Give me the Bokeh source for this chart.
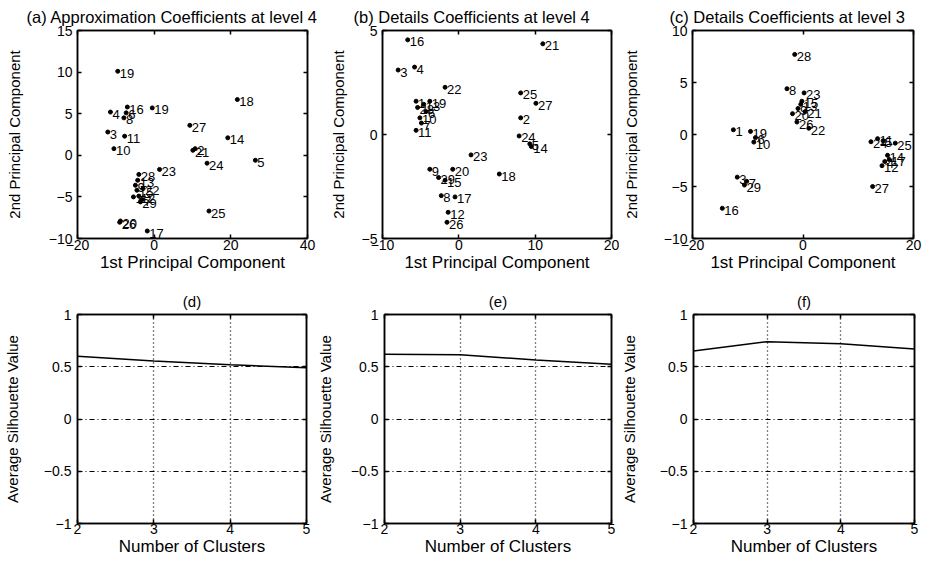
from bokeh.plotting import figure
from bokeh.layouts import column, row
from bokeh.models import Range1d, LinearAxis, FixedTicker, ColumnDataSource
from bokeh.core.properties import value
from bokeh.embed import file_html
from bokeh.resources import INLINE

FONT = "Liberation Sans"

# ---- panel titles -------------------------------------------------------
titles = ["(a) Approximation Coefficients at level 4",
          "(b) Details Coefficients at level 4",
          "(c) Details Coefficients at level 3"]
sil_titles = ["(d)", "(e)", "(f)"]

# ---- (a) PCA of approximation coefficients, level 4 ---------------------
a_labels = ["19", "4", "16", "6", "8", "19", "3", "11", "10",
            "27", "18", "14", "21", "2", "24", "5", "25",
            "23", "26", "20", "17",
            "28", "13", "9", "15", "1", "12", "7", "22", "29"]
a_x = [-9.5, -11.4, -7.0, -7.3, -7.9, -0.5, -12.1, -7.7, -10.5,
       9.3, 21.7, 19.2, 10.1, 10.7, 13.8, 26.4, 14.3,
       1.4, -9.0, -8.8, -1.8,
       -4.0, -4.3, -4.9, -4.5, -5.4, -4.0, -3.1, -2.9, -3.6]
a_y = [10.1, 5.2, 5.8, 5.1, 4.5, 5.7, 2.8, 2.3, 0.8,
       3.6, 6.7, 2.1, 0.6, 0.8, -0.95, -0.6, -6.7,
       -1.7, -8.05, -7.9, -9.1,
       -2.3, -3.0, -3.6, -4.2, -5.0, -4.9, -5.3, -4.0, -5.6]

# ---- (b) PCA of detail coefficients, level 4 ----------------------------
b_labels = ["16", "3", "4", "22", "21", "1", "19", "28", "13", "10", "6", "7", "11",
            "25", "27", "2", "24", "14", "5", "23", "18",
            "9", "20", "29", "15", "8", "17", "12", "26"]
b_x = [-6.7, -7.95, -5.8, -1.8, 11.0, -5.6, -3.8, -5.4, -4.6, -5.1, -4.3, -4.9, -5.6,
       8.1, 10.1, 8.1, 7.9, 9.5, 9.3, 1.6, 5.3,
       -3.8, -0.8, -2.65, -1.8, -2.3, -0.5, -1.4, -1.55]
b_y = [4.55, 3.1, 3.24, 2.27, 4.36, 1.6, 1.6, 1.3, 1.45, 0.8, 1.1, 0.55, 0.2,
       2.0, 1.5, 0.8, -0.07, -0.58, -0.45, -0.98, -1.9,
       -1.67, -1.67, -2.07, -2.2, -2.94, -3.0, -3.74, -4.22]

# ---- (c) PCA of detail coefficients, level 3 ----------------------------
c_labels = ["28", "8", "23", "15", "13", "9", "21", "20", "26", "22",
            "1", "19", "10", "6", "3", "29", "7", "16",
            "27", "24", "11", "5", "25", "14", "4", "12", "17"]
c_x = [-1.5, -2.9, 0.2, -0.2, -0.4, -0.9, 0.4, -1.9, -1.1, 1.05,
       -12.6, -9.5, -8.9, -8.6, -11.9, -10.6, -10.2, -14.6,
       12.6, 12.3, 13.5, 14.5, 16.7, 15.3, 14.8, 14.3, 15.6]
c_y = [7.7, 4.4, 4.0, 3.2, 2.9, 2.5, 2.2, 2.0, 1.2, 0.6,
       0.45, 0.3, -0.73, -0.3, -4.1, -4.86, -4.5, -7.1,
       -5.0, -0.7, -0.4, -0.6, -0.83, -2.0, -2.6, -3.0, -2.4]

# ---- (d)-(f) average silhouette value vs number of clusters -------------
clusters = [2, 3, 4, 5]
sil_d = [0.60, 0.555, 0.52, 0.49]
sil_e = [0.62, 0.615, 0.565, 0.525]
sil_f = [0.65, 0.74, 0.72, 0.67]

# ---- axis ticks ---------------------------------------------------------
a_xticks, a_yticks = [-20, 0, 20, 40], [-10, -5, 0, 5, 10, 15]
b_xticks, b_yticks = [-10, 0, 10, 20], [-5, 0, 5]
c_xticks, c_yticks = [-20, 0, 20], [-10, -5, 0, 5, 10]
sil_yticks = [-1, -0.5, 0, 0.5, 1]


def fmt(t):
    return f"{t:g}".replace("-", "\u2212")


def style_axis(ax, ticks, label, label_size, tick_standoff, label_standoff):
    ax.ticker = FixedTicker(ticks=ticks)
    ax.major_label_overrides = {t: fmt(t) for t in ticks}
    ax.major_tick_in = 4
    ax.major_tick_out = 0
    ax.major_tick_line_color = "black"
    ax.major_tick_line_width = 1.5
    ax.minor_tick_line_color = None
    ax.axis_line_color = "black"
    ax.axis_line_width = 1.5
    ax.major_label_text_font = FONT
    ax.major_label_text_font_size = "14px"
    ax.major_label_text_color = "black"
    ax.major_label_standoff = tick_standoff
    ax.axis_label = label
    ax.axis_label_text_font = FONT
    ax.axis_label_text_font_size = label_size
    ax.axis_label_text_font_style = "normal"
    ax.axis_label_text_color = "black"
    ax.axis_label_standoff = label_standoff


def mirror_axes(p, xticks, yticks):
    # unlabeled ticks on the top and right edges of the box
    for ticks, side in ((xticks, "above"), (yticks, "right")):
        ax = LinearAxis(ticker=FixedTicker(ticks=ticks),
                        major_label_overrides={t: "" for t in ticks},
                        major_tick_in=4, major_tick_out=0,
                        major_tick_line_color="black", major_tick_line_width=1.5,
                        minor_tick_line_color=None,
                        axis_line_color="black", axis_line_width=1.5,
                        major_label_standoff=0, major_label_text_font_size="1px")
        p.add_layout(ax, side)


def base_fig(width, height, borders, xr, yr, title, title_size, title_align, title_offset):
    left, right, top, bottom = borders
    p = figure(width=width, height=height,
               x_range=Range1d(*xr), y_range=Range1d(*yr),
               min_border_left=left, min_border_right=right,
               min_border_top=top, min_border_bottom=bottom,
               output_backend="svg", toolbar_location=None,
               background_fill_color="white", border_fill_color="white")
    p.outline_line_color = "black"
    p.outline_line_width = 1.5
    p.title.text = title
    p.title.align = title_align
    p.title.offset = title_offset
    p.title.text_font = FONT
    p.title.text_font_size = title_size
    p.title.text_font_style = "normal"
    p.title.text_color = "black"
    return p


def scatter_panel(width, borders, xr, yr, xs, ys, labels, xticks, yticks,
                  ylab_standoff, title, title_offset):
    p = base_fig(width, 283, borders, xr, yr, title, "16.5px", "left", title_offset)
    p.grid.visible = False
    src = ColumnDataSource(dict(x=xs, y=ys, label=labels))
    p.scatter("x", "y", source=src, size=4, color="black")
    p.text("x", "y", text="label", source=src, text_font=value(FONT),
           text_font_size="13px", text_color="black", text_align="left",
           text_baseline="alphabetic", x_offset=2, y_offset=2)
    style_axis(p.xaxis[0], xticks, "1st Principal Component", "17px", 1, 0)
    style_axis(p.yaxis[0], yticks, "2nd Principal Component", "15px", 5, ylab_standoff)
    mirror_axes(p, xticks, yticks)
    return p


def silhouette_panel(width, borders, values, title, ylab_standoff):
    p = base_fig(width, 283, borders, (2, 5), (-1, 1), title, "15px", "center", 0)
    p.line(clusters, values, line_color="black", line_width=1.5)
    style_axis(p.xaxis[0], clusters, "Number of Clusters", "17px", 0, 0)
    style_axis(p.yaxis[0], sil_yticks, "Average Silhouette Value", "15px", 6, ylab_standoff)
    p.xgrid.grid_line_color = "black"
    p.xgrid.grid_line_width = 1.3
    p.xgrid.grid_line_dash = "1 3"
    p.ygrid.grid_line_color = "black"
    p.ygrid.grid_line_width = 1.2
    p.ygrid.grid_line_dash = "5 3 1 3"
    mirror_axes(p, clusters, sil_yticks)
    return p


pa = scatter_panel(326, (77, 19, 29, 45), (-20, 40), (-10, 15), a_x, a_y, a_labels,
                   a_xticks, a_yticks, 23, titles[0], -51)
pb = scatter_panel(293, (55, 8, 29, 45), (-10, 20), (-5, 5), b_x, b_y, b_labels,
                   b_xticks, b_yticks, 12, titles[1], -29)
pc = scatter_panel(321, (66, 27, 29, 45), (-20, 20), (-10, 10), c_x, c_y, c_labels,
                   c_xticks, c_yticks, 21, titles[2], -23)

pd = silhouette_panel(313, (76, 7, 31, 43), sil_d, sil_titles[0], 20)
pe = silhouette_panel(304, (68, 6, 31, 43), sil_e, sil_titles[1], 14)
pf = silhouette_panel(323, (69, 26, 31, 43), sil_f, sil_titles[2], 19)

layout = column(row(pa, pb, pc), row(pd, pe, pf))

with open("out.html", "w") as f:
    f.write(file_html(layout, INLINE))
